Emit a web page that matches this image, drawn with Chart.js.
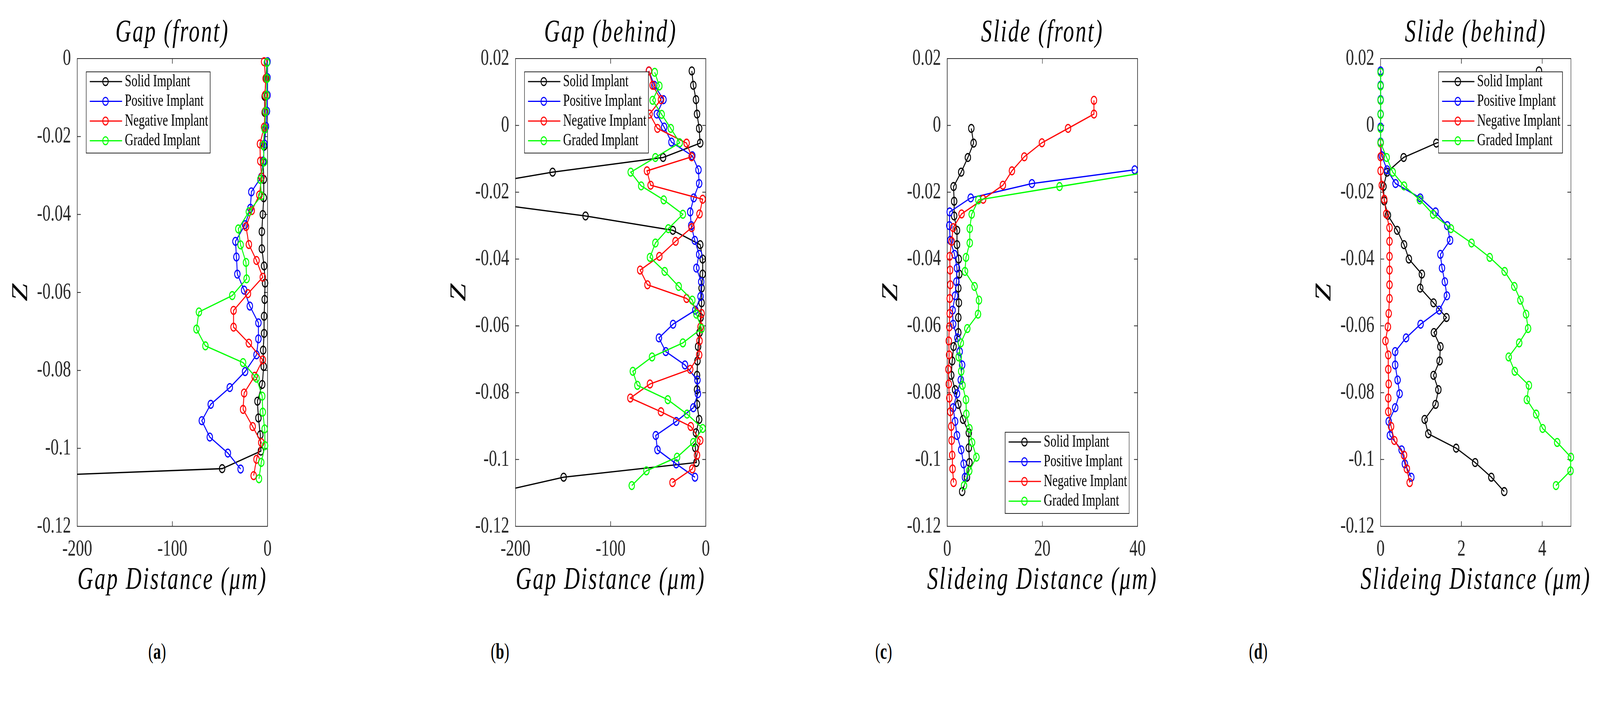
<!DOCTYPE html>
<html>
<head>
<meta charset="utf-8">
<script src="https://cdn.jsdelivr.net/npm/chart.js@4.4.0/dist/chart.umd.min.js"></script>
<style>
  html, body { margin: 0; padding: 0; background: #fff; overflow: hidden; }
  #page { position: absolute; left: 0; top: 0; width: 5885px; height: 1803px; overflow: hidden; background: #fff; transform-origin: 0 0; }
  #page canvas { position: absolute; top: 0; }
  .title, .xtitle { position: absolute; width: 1200px; text-align: center; font-family: "Liberation Serif", serif;
    font-style: italic; font-size: 80px; line-height: 80px; letter-spacing: 5px; color: #000; white-space: nowrap; }
  .ztitle { position: absolute; width: 200px; height: 100px; line-height: 100px; text-align: center;
    font-family: "Liberation Serif", serif; font-style: italic; font-size: 82px; color: #000; transform: rotate(-90deg); }
  .caption { position: absolute; width: 300px; text-align: center; font-family: "Liberation Serif", serif;
    font-size: 56px; line-height: 56px; color: #000; }
</style>
</head>
<body>
<div id="page"></div>
<script>
const seriesNames = ["Solid Implant", "Positive Implant", "Negative Implant", "Graded Implant"];
const seriesColors = ["#000000", "#0000ff", "#ff0000", "#00ff00"];

const gapTicks = [-200, -100, 0];
const slideFrontTicks = [0, 20, 40];
const slideBehindTicks = [0, 2, 4];
const zTicksFront = [0, -0.02, -0.04, -0.06, -0.08, -0.1, -0.12];
const zTicksBehind = [0.02, 0, -0.02, -0.04, -0.06, -0.08, -0.1, -0.12];

// (a) Gap (front)
const gapFrontSolidZ = [-0.001, -0.0051, -0.0097, -0.0138, -0.018, -0.0225, -0.0266, -0.031, -0.0357, -0.040, -0.0444, -0.0488, -0.0532, -0.0576, -0.0618, -0.0661, -0.0705, -0.0748, -0.079, -0.0836, -0.0879, -0.0922, -0.0965, -0.1007, -0.1052, -0.1095];
const gapFrontSolidX = [-0.6, -1.6, -3.0, -3.0, -2.6, -3.6, -4.6, -4.0, -4.0, -5.0, -6.0, -6.0, -3.6, -2.6, -3.0, -3.6, -3.6, -4.6, -4.0, -5.6, -10.6, -9.6, -7.6, -7.0, -47.7, -505];
const gapFrontPosZ = [-0.0008, -0.0049, -0.0094, -0.0135, -0.0174, -0.0219, -0.0263, -0.0304, -0.0342, -0.0384, -0.0426, -0.0469, -0.0509, -0.0553, -0.0594, -0.0635, -0.0678, -0.0719, -0.076, -0.0803, -0.0844, -0.0887, -0.0929, -0.0971, -0.1012, -0.1053];
const gapFrontPosX = [0, 0, 0, -0.6, -1.6, -3.2, -4.6, -6.6, -17.0, -18.0, -23.6, -33.7, -32.7, -31.7, -24.6, -18.6, -9.6, -9.6, -11.6, -23.6, -39.7, -59.7, -69.1, -60.7, -41.7, -28.3];
const gapFrontNegZ = [-0.0008, -0.0051, -0.0094, -0.0136, -0.0176, -0.0219, -0.0263, -0.0304, -0.035, -0.039, -0.0431, -0.0477, -0.0518, -0.0561, -0.0603, -0.0646, -0.0689, -0.073, -0.0773, -0.0815, -0.0858, -0.09, -0.0944, -0.0985, -0.1028, -0.107];
const gapFrontNegX = [-3.6, -2.0, -2.6, -2.6, -3.6, -8.0, -7.6, -6.2, -8.6, -16.6, -22.6, -19.6, -11.6, -5.0, -20.6, -35.7, -35.7, -19.6, -5.0, -13.6, -24.6, -25.7, -15.6, -6.6, -11.6, -14.6];
const gapFrontGradZ = [-0.001, -0.0051, -0.0094, -0.0136, -0.0181, -0.0223, -0.0265, -0.031, -0.0352, -0.0393, -0.0437, -0.0478, -0.0523, -0.0565, -0.0608, -0.065, -0.0694, -0.0737, -0.078, -0.082, -0.0866, -0.0907, -0.095, -0.0993, -0.1036, -0.1078];
const gapFrontGradX = [-0.6, -0.6, -1.0, -2.0, -3.0, -4.6, -3.6, -7.6, -6.6, -19.6, -30.7, -28.3, -22.6, -22.0, -37.1, -72.1, -74.7, -65.3, -25.7, -11.6, -5.6, -5.0, -3.0, -2.6, -6.6, -9.0];

// (b) Gap (behind)
const gapBehindSolidZ = [0.0163, 0.012, 0.0077, 0.0034, -0.0009, -0.0053, -0.0096, -0.014, -0.0183, -0.0226, -0.0271, -0.0314, -0.0357, -0.04, -0.0445, -0.0487, -0.0531, -0.0575, -0.062, -0.0662, -0.0705, -0.0748, -0.0791, -0.0835, -0.088, -0.092, -0.0965, -0.1009, -0.1053, -0.1096];
const gapBehindSolidX = [-14.7, -13.1, -10.3, -9.2, -7.0, -5.9, -44.9, -161, -250, -247, -126.4, -34.6, -5.9, -3.3, -3.3, -4.4, -4.4, -5.5, -6.6, -8.1, -8.8, -9.2, -9.2, -9.2, -7.0, -10.3, -11.0, -9.9, -149.4, -216];
const gapBehindPosZ = [0.0163, 0.012, 0.0077, 0.0034, -0.0005, -0.005, -0.0091, -0.0133, -0.0174, -0.0217, -0.0259, -0.03, -0.0344, -0.0386, -0.0427, -0.0468, -0.0512, -0.0553, -0.0595, -0.0636, -0.0677, -0.0717, -0.0762, -0.0803, -0.0845, -0.0886, -0.0928, -0.0971, -0.1013, -0.1053];
const gapBehindPosX = [-59.8, -54.1, -44.5, -51.5, -43.8, -36.1, -14.2, -7.7, -7.0, -12.7, -16.4, -15.3, -11.6, -7.0, -9.9, -4.8, -5.5, -11.0, -34.4, -49.3, -42.1, -21.9, -8.8, -8.3, -13.1, -31.1, -52.6, -50.8, -31.1, -11.4];
const gapBehindNegZ = [0.0163, 0.012, 0.0077, 0.0034, -0.0009, -0.0053, -0.0094, -0.0136, -0.0179, -0.0221, -0.0265, -0.0306, -0.0347, -0.0392, -0.0433, -0.0477, -0.0518, -0.0563, -0.0603, -0.0645, -0.0687, -0.073, -0.0774, -0.0816, -0.0857, -0.0901, -0.0943, -0.0987, -0.1028, -0.1069];
const gapBehindNegX = [-59.8, -55.9, -47.1, -59.1, -50.8, -20.2, -14.9, -61.8, -58.0, -3.3, -6.6, -14.9, -31.8, -48.8, -69.0, -61.3, -20.2, -4.4, -5.5, -6.6, -7.0, -16.4, -58.7, -79.3, -47.1, -15.8, -5.9, -9.2, -14.2, -35.0];
const gapBehindGradZ = [0.0159, 0.0118, 0.0075, 0.0033, -0.0009, -0.0052, -0.0096, -0.014, -0.0181, -0.0223, -0.0266, -0.0309, -0.0352, -0.0395, -0.0437, -0.0482, -0.0523, -0.0565, -0.0608, -0.0651, -0.0693, -0.0736, -0.0778, -0.0821, -0.0864, -0.0907, -0.0949, -0.0993, -0.1034, -0.1078];
const gapBehindGradX = [-53.7, -48.8, -55.9, -46.4, -36.8, -27.4, -53.0, -78.9, -67.9, -44.2, -24.1, -39.4, -53.0, -58.7, -43.2, -28.5, -14.2, -9.9, -4.4, -24.1, -56.5, -76.7, -71.9, -39.9, -19.7, -3.3, -13.1, -30.2, -62.4, -77.8];

// (c) Slide (front)
const slideFrontSolidZ = [-0.0009, -0.0053, -0.0096, -0.014, -0.0183, -0.0227, -0.0271, -0.0314, -0.0357, -0.04, -0.0445, -0.0487, -0.0531, -0.0575, -0.062, -0.0662, -0.0705, -0.0748, -0.0791, -0.0835, -0.088, -0.092, -0.0965, -0.1009, -0.1053, -0.1096];
const slideFrontSolidX = [5.06, 5.54, 4.34, 2.93, 1.33, 1.45, 1.45, 2.05, 2.05, 2.41, 2.53, 2.33, 2.45, 2.33, 2.33, 1.33, 1.04, 0.84, 1.65, 2.33, 3.33, 4.54, 4.54, 4.66, 4.14, 3.13];
const slideFrontPosZ = [-0.0133, -0.0174, -0.0217, -0.0259, -0.03, -0.0344, -0.0386, -0.0427, -0.0468, -0.051, -0.0553, -0.0595, -0.0636, -0.0677, -0.0717, -0.0762, -0.0803, -0.0845, -0.0886, -0.0928, -0.0971, -0.1013, -0.1053];
const slideFrontPosX = [39.4, 17.8, 4.94, 0.52, 0.44, 0.64, 1.53, 2.05, 1.93, 1.65, 1.12, 1.24, 2.13, 2.61, 3.13, 2.85, 2.05, 1.24, 1.65, 2.05, 2.93, 3.45, 3.73];
const slideFrontNegZ = [0.0075, 0.0034, -0.0009, -0.0052, -0.0094, -0.0136, -0.0179, -0.0221, -0.0265, -0.0306, -0.0347, -0.0392, -0.0433, -0.0477, -0.0518, -0.0563, -0.0603, -0.0645, -0.0687, -0.073, -0.0774, -0.0816, -0.0857, -0.0901, -0.0943, -0.0987, -0.1028, -0.1069];
const slideFrontNegX = [30.84, 30.84, 25.4, 19.9, 16.2, 13.6, 11.7, 7.55, 3.01, 1.24, 0.92, 0.52, 0.6, 0.64, 0.52, 0.52, 0.44, 0.32, 0.4, 0.24, 0.32, 0.44, 0.64, 0.84, 0.92, 1.04, 1.12, 1.33];
const slideFrontGradZ = [-0.014, -0.0183, -0.0223, -0.0266, -0.0309, -0.0352, -0.0395, -0.0437, -0.0482, -0.0523, -0.0565, -0.0608, -0.0651, -0.0693, -0.0736, -0.0778, -0.0821, -0.0864, -0.0907, -0.0949, -0.0993, -0.1034, -0.1078];
const slideFrontGradX = [42.2, 23.6, 6.55, 5.14, 4.74, 4.74, 3.94, 3.73, 5.74, 6.67, 6.47, 4.22, 2.85, 2.41, 2.93, 3.21, 3.94, 4.02, 4.66, 5.22, 6.14, 4.62, 3.53];

// (d) Slide (behind)
const slideBehindSolidZ = [0.0163, 0.012, 0.0077, 0.0034, -0.0009, -0.0053, -0.0096, -0.014, -0.0183, -0.0226, -0.0269, -0.0314, -0.0357, -0.04, -0.0445, -0.0487, -0.0531, -0.0575, -0.062, -0.0662, -0.0705, -0.0748, -0.0791, -0.0835, -0.088, -0.0923, -0.0966, -0.1009, -0.1053, -0.1096];
const slideBehindSolidX = [3.92, 3.9, 3.7, 3.3, 2.6, 1.38, 0.57, 0.16, 0.07, 0.09, 0.18, 0.41, 0.58, 0.7, 1.02, 0.98, 1.31, 1.63, 1.32, 1.48, 1.46, 1.31, 1.43, 1.36, 1.09, 1.18, 1.87, 2.34, 2.74, 3.06];
const slideBehindPosZ = [0.0163, 0.012, 0.0077, 0.0034, -0.0005, -0.005, -0.0091, -0.0133, -0.0174, -0.0217, -0.0259, -0.03, -0.0344, -0.0386, -0.0427, -0.0468, -0.051, -0.0553, -0.0595, -0.0636, -0.0677, -0.0717, -0.0762, -0.0803, -0.0845, -0.0886, -0.0928, -0.0971, -0.1013, -0.1053];
const slideBehindPosX = [0, 0, 0, 0, 0, 0, 0.03, 0.16, 0.37, 0.98, 1.36, 1.65, 1.72, 1.48, 1.52, 1.59, 1.64, 1.45, 0.99, 0.63, 0.36, 0.36, 0.42, 0.47, 0.36, 0.2, 0.23, 0.52, 0.6, 0.76];
const slideBehindNegZ = [-0.0053, -0.0094, -0.0136, -0.0179, -0.0221, -0.0265, -0.0306, -0.0347, -0.0392, -0.0433, -0.0477, -0.0518, -0.0563, -0.0603, -0.0645, -0.0687, -0.073, -0.0774, -0.0816, -0.0857, -0.0901, -0.0943, -0.0987, -0.1028, -0.1069];
const slideBehindNegX = [0, 0, 0, 0.03, 0.09, 0.14, 0.22, 0.22, 0.22, 0.22, 0.22, 0.22, 0.2, 0.18, 0.12, 0.19, 0.19, 0.2, 0.19, 0.19, 0.26, 0.34, 0.58, 0.65, 0.72];
const slideBehindGradZ = [0.0159, 0.0118, 0.0075, 0.0033, -0.0009, -0.0052, -0.0096, -0.014, -0.0181, -0.0223, -0.0266, -0.0309, -0.0352, -0.0395, -0.0437, -0.0482, -0.0523, -0.0565, -0.0608, -0.0651, -0.0693, -0.0736, -0.0778, -0.0821, -0.0864, -0.0907, -0.0949, -0.0993, -0.1034, -0.1078];
const slideBehindGradX = [0, 0, 0, 0, 0, 0, 0.15, 0.3, 0.58, 0.97, 1.3, 1.74, 2.25, 2.7, 3.07, 3.31, 3.46, 3.6, 3.65, 3.43, 3.17, 3.32, 3.67, 3.62, 3.85, 4.01, 4.37, 4.71, 4.7, 4.34];

const panels = [
  { tag: "a", plotLeft: 284, title: "Gap (front)", xTitle: "Gap Distance (μm)", xMin: -200, xMax: 0, xTicks: gapTicks,
    zMax: 0, zTicks: zTicksFront, corner: "top-left", capX: 578, clip: { left: 0, top: 15, right: 15, bottom: 15 },
    xs: [gapFrontSolidX, gapFrontPosX, gapFrontNegX, gapFrontGradX], zs: [gapFrontSolidZ, gapFrontPosZ, gapFrontNegZ, gapFrontGradZ] },
  { tag: "b", plotLeft: 1896, title: "Gap (behind)", xTitle: "Gap Distance (μm)", xMin: -200, xMax: 0, xTicks: gapTicks,
    zMax: 0.02, zTicks: zTicksBehind, corner: "top-left", capX: 1839, clip: { left: 0, top: 15, right: 15, bottom: 15 },
    xs: [gapBehindSolidX, gapBehindPosX, gapBehindNegX, gapBehindGradX], zs: [gapBehindSolidZ, gapBehindPosZ, gapBehindNegZ, gapBehindGradZ] },
  { tag: "c", plotLeft: 3484, title: "Slide (front)", xTitle: "Slideing Distance (μm)", xMin: 0, xMax: 40, xTicks: slideFrontTicks,
    zMax: 0.02, zTicks: zTicksBehind, corner: "bottom-right", capX: 3250, clip: { left: 15, top: 15, right: 1, bottom: 15 },
    xs: [slideFrontSolidX, slideFrontPosX, slideFrontNegX, slideFrontGradX], zs: [slideFrontSolidZ, slideFrontPosZ, slideFrontNegZ, slideFrontGradZ] },
  { tag: "d", plotLeft: 5078, title: "Slide (behind)", xTitle: "Slideing Distance (μm)", xMin: 0, xMax: 4.71, xTicks: slideBehindTicks,
    zMax: 0.02, zTicks: zTicksBehind, corner: "top-right", capX: 4628, clip: { left: 15, top: 15, right: 15, bottom: 15 },
    xs: [slideBehindSolidX, slideBehindPosX, slideBehindNegX, slideBehindGradX], zs: [slideBehindSolidZ, slideBehindPosZ, slideBehindNegZ, slideBehindGradZ] }
];

const axisColor = "#262626";
const tickFont = { family: '"Liberation Serif", serif', size: 60 };
const fmt = v => String(Number(Number(v).toFixed(3)));

// box round the plot, with inward ticks on all four sides (MATLAB style)
const frame = {
  id: "frame",
  beforeDatasetsDraw(chart) {
    const { ctx, chartArea: a, scales: { x, y } } = chart;
    ctx.save();
    ctx.strokeStyle = axisColor;
    ctx.lineWidth = 2;
    ctx.strokeRect(a.left, a.top, a.right - a.left, a.bottom - a.top);
    ctx.beginPath();
    x.ticks.forEach(t => {
      const px = x.getPixelForValue(t.value);
      ctx.moveTo(px, a.bottom); ctx.lineTo(px, a.bottom - 13);
      ctx.moveTo(px, a.top); ctx.lineTo(px, a.top + 13);
    });
    y.ticks.forEach(t => {
      const py = y.getPixelForValue(t.value);
      ctx.moveTo(a.left, py); ctx.lineTo(a.left + 13, py);
      ctx.moveTo(a.right, py); ctx.lineTo(a.right - 13, py);
    });
    ctx.stroke();
    ctx.restore();
  }
};

// legend drawn inside the plot area, in a white box
const boxLegend = {
  id: "boxLegend",
  afterDatasetsDraw(chart, args, opts) {
    const { ctx, chartArea: a } = chart;
    const w = 456, h = 208;
    const left = opts.corner.includes("left") ? a.left + 33 : a.right - 31 - w;
    const top = opts.corner.includes("top") ? a.top + 34 : a.bottom - 33 - h;
    ctx.save();
    ctx.fillStyle = "#fff";
    ctx.fillRect(left, top, w, h);
    ctx.strokeStyle = axisColor;
    ctx.lineWidth = 2;
    ctx.strokeRect(left, top, w, h);
    chart.data.datasets.forEach((ds, i) => {
      const cy = top + 25 + i * 50.5;
      ctx.strokeStyle = ds.borderColor;
      ctx.lineWidth = 3;
      ctx.beginPath();
      ctx.moveTo(left + 13, cy);
      ctx.lineTo(left + 132, cy);
      ctx.stroke();
      ctx.beginPath();
      ctx.arc(left + 71, cy, 10, 0, Math.PI * 2);
      ctx.stroke();
      ctx.fillStyle = "#000";
      ctx.font = '44px "Liberation Serif", serif';
      ctx.textBaseline = "middle";
      ctx.fillText(ds.label, left + 142, cy);
    });
    ctx.restore();
  }
};

const page = document.getElementById("page");

// the figure is laid out at 5885 x 1803; stretch it onto whatever viewport we get
function fitPage() {
  const sx = window.innerWidth / 5885, sy = window.innerHeight / 1803;
  page.style.transform = "scale(" + sx + "," + sy + ")";
}
fitPage();
window.addEventListener("resize", fitPage);

function addText(cls, html, left, top) {
  const d = document.createElement("div");
  d.className = cls;
  d.innerHTML = html;
  d.style.left = left + "px";
  d.style.top = top + "px";
  page.appendChild(d);
  return d;
}

panels.forEach(p => {
  const canvas = document.createElement("canvas");
  canvas.width = 1020;
  canvas.height = 1448;
  canvas.style.left = (p.plotLeft - 260) + "px";
  page.appendChild(canvas);

  const datasets = p.xs.map((xs, i) => ({
    label: seriesNames[i],
    data: xs.map((x, k) => ({ x: x, y: p.zs[i][k] })),
    showLine: true,
    borderColor: seriesColors[i],
    backgroundColor: seriesColors[i],
    borderWidth: 3.3,
    tension: 0,
    pointRadius: 10,
    pointHoverRadius: 10,
    pointBorderWidth: 3.3,
    pointBorderColor: seriesColors[i],
    pointBackgroundColor: "rgba(0,0,0,0)",
    order: 4 - i,
    clip: p.clip
  }));

  new Chart(canvas, {
    type: "scatter",
    data: { datasets },
    options: {
      responsive: false,
      animation: false,
      devicePixelRatio: 1,
      layout: { padding: { top: 150, left: 0, right: 60, bottom: 0 } },
      plugins: {
        legend: { display: false },
        tooltip: { enabled: false },
        boxLegend: { corner: p.corner }
      },
      scales: {
        x: {
          type: "linear", min: p.xMin, max: p.xMax,
          grid: { display: false, drawTicks: false },
          border: { display: false },
          ticks: { font: tickFont, color: axisColor, padding: 23, maxRotation: 0, autoSkip: false, callback: v => fmt(v) },
          afterBuildTicks: s => { s.ticks = p.xTicks.map(v => ({ value: v })); },
          afterFit: s => { s.height = 100; }
        },
        y: {
          type: "linear", min: -0.12, max: p.zMax,
          grid: { display: false, drawTicks: false },
          border: { display: false },
          ticks: { font: tickFont, color: axisColor, padding: 23, autoSkip: false, callback: v => fmt(v) },
          afterBuildTicks: s => { s.ticks = p.zTicks.map(v => ({ value: v })); },
          afterFit: s => { s.width = 260; }
        }
      }
    },
    plugins: [frame, boxLegend]
  });

  const centre = p.plotLeft + 350;
  addText("title", p.title, centre - 600, 39);
  addText("xtitle", p.xTitle, centre - 600, 1441);
  addText("ztitle", "Z", p.plotLeft - 212 - 100, 749 - 50);
  addText("caption", "(<b>" + p.tag + "</b>)", p.capX - 150, 1640);
});
</script>
</body>
</html>
